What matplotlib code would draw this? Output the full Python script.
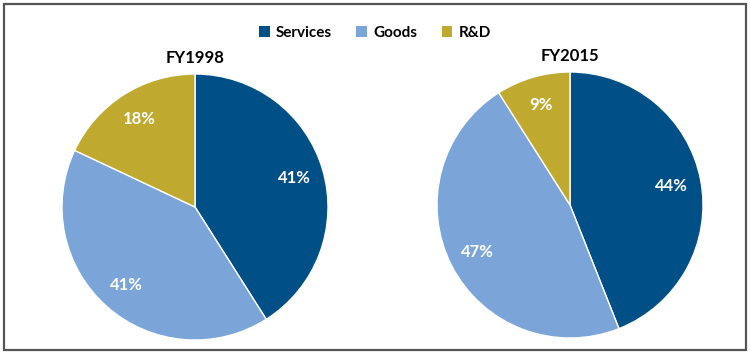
"""Two-year pie comparison of spending shares (Services / Goods / R&D)."""

import matplotlib

matplotlib.use("Agg")
import matplotlib.pyplot as plt
from matplotlib.patches import Patch, Rectangle

CATEGORIES = ["Services", "Goods", "R&D"]
FY1998_SHARES = [41, 41, 18]
FY2015_SHARES = [44, 47, 9]
YEARS = ["FY1998", "FY2015"]

COLORS = ["#004F86", "#7BA5D8", "#BFA92E"]
FONT = ["Lato", "DejaVu Sans"]


def draw_pie(fig, rect, shares, title):
    ax = fig.add_axes(rect)
    wedges, _, autotexts = ax.pie(
        shares,
        colors=COLORS,
        startangle=90,
        counterclock=False,
        autopct=lambda p: f"{p:.0f}%",
        pctdistance=0.78,
        wedgeprops=dict(edgecolor="white", linewidth=1.0),
        textprops=dict(color="white", fontsize=12, fontweight="bold", family=FONT),
    )
    ax.set_xlim(-1, 1)
    ax.set_ylim(-1, 1)
    ax.set_aspect("equal")
    ax.set_title(title, fontsize=12, fontweight="bold", family=FONT, pad=8)
    return ax


fig = plt.figure(figsize=(7.5, 3.55), dpi=100)

# outer frame
fig.patches.append(
    Rectangle((4 / 750, 5 / 355), 742 / 750, 346 / 355, transform=fig.transFigure,
              fill=False, edgecolor="#555555", linewidth=1.6)
)

draw_pie(fig, [62 / 750, 15 / 355, 266 / 750, 266 / 355], FY1998_SHARES, YEARS[0])
draw_pie(fig, [437 / 750, 17 / 355, 266 / 750, 266 / 355], FY2015_SHARES, YEARS[1])

handles = [Patch(facecolor=c, edgecolor="none") for c in COLORS]
fig.legend(
    handles, CATEGORIES,
    loc="center", bbox_to_anchor=(0.5, 1 - 33 / 355), ncol=3, frameon=False,
    handlelength=0.7, handleheight=0.7, handletextpad=0.4, columnspacing=1.6,
    prop=dict(family=FONT, weight="bold", size=11),
)

fig.savefig("out.png", dpi=100)
